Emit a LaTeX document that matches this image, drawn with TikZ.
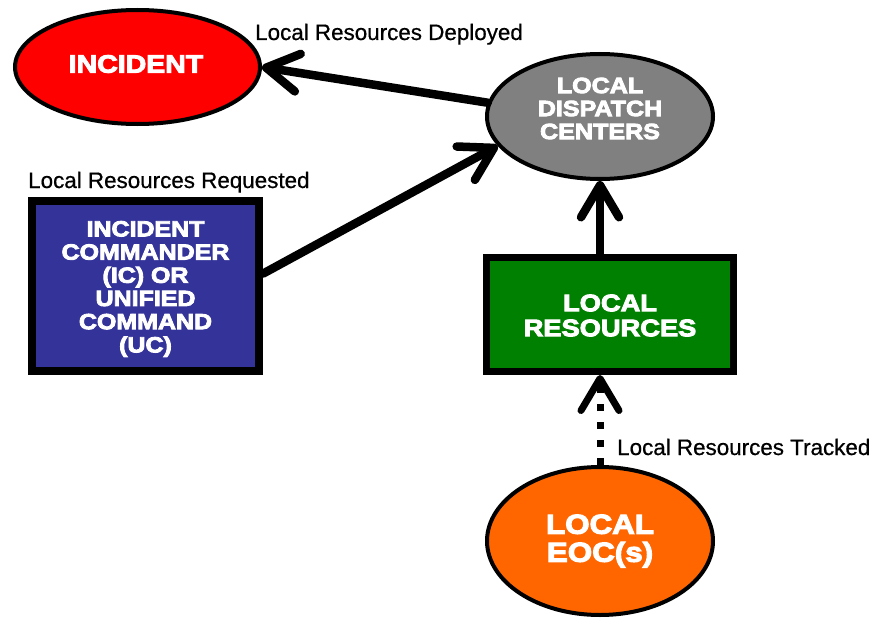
\documentclass[tikz,border=0pt]{standalone}
\usepackage{fontspec}
\setmainfont[FakeBold=0.6]{Liberation Sans}
\newfontfamily\heavy[FakeStretch=1.14,FakeBold=4]{Liberation Sans Bold}
\usetikzlibrary{shapes.geometric,arrows.meta}
\definecolor{incred}{HTML}{FF0000}
\definecolor{dispgray}{HTML}{808080}
\definecolor{icblue}{HTML}{333399}
\definecolor{resgreen}{HTML}{008000}
\definecolor{eocorange}{HTML}{FF6600}
\tikzset{
  ell/.style={ellipse, draw=black, line width=4pt, inner sep=0pt},
  boxnode/.style={rectangle, draw=black, inner sep=0pt},
  heavytext/.style={text=white, align=center, inner sep=0pt},
  lbl/.style={font=\fontsize{22.4pt}{26pt}\selectfont, inner sep=0pt, anchor=base west},
  arr/.style={line width=8.5pt, line cap=round, -{Straight Barb[length=32pt,width=38pt,round]}},
  darr/.style={line width=7pt, dash pattern=on 7pt off 11pt, -{Straight Barb[length=32pt,width=38pt,round]}}
}
\begin{document}
\begin{tikzpicture}[x=1pt,y=-1pt]
\useasboundingbox (0,0) rectangle (873,618);
% nodes
\node[ell, fill=incred, minimum width=245pt, minimum height=114pt] (incident) at (137.5,67) {};
\node[heavytext, font=\heavy\fontsize{25pt}{26pt}\selectfont] (incidenttext) at (136,64) {INCIDENT};

\node[ell, fill=dispgray, minimum width=226pt, minimum height=125pt] (dispatch) at (600,116.5) {};
\node[heavytext, font=\heavy\fontsize{22pt}{23pt}\selectfont] (dispatchtext) at (600,108.5) {LOCAL\\DISPATCH\\CENTERS};

\node[boxnode, line width=8pt, fill=icblue, minimum width=227pt, minimum height=170pt] (ic) at (145.5,286) {};
\node[heavytext, font=\heavy\fontsize{21.9pt}{23.2pt}\selectfont] (ictext) at (145.5,289) {INCIDENT\\COMMANDER\\(IC) OR\\UNIFIED\\COMMAND\\(UC)};

\node[boxnode, line width=7pt, fill=resgreen, minimum width=247pt, minimum height=114pt] (res) at (610,314.5) {};
\node[heavytext, font=\heavy\fontsize{23.9pt}{25pt}\selectfont] (restext) at (610,315.5) {LOCAL\\RESOURCES};

\node[ell, fill=eocorange, minimum width=226pt, minimum height=148pt] (eoc) at (600,541) {};
\node[heavytext, font=\heavy\fontsize{27.5pt}{28pt}\selectfont] (eoctext) at (600,541) {LOCAL\\EOC(s)};

% labels
\node[lbl] (ldeployed) at (255,40) {Local Resources Deployed};
\node[lbl] (lrequested) at (28,188) {Local Resources Requested};
\node[lbl] (ltracked) at (617,455) {Local Resources Tracked};

% connectors
\draw[arr] (dispatch.173) -- (incident.east);
\draw[arr] (ic.6) -- (dispatch.196);
\draw[arr] (res.north -| dispatch.south) -- (dispatch.south);
\draw[darr] (eoc.north) -- (res.south -| eoc.north);
\end{tikzpicture}
\end{document}
